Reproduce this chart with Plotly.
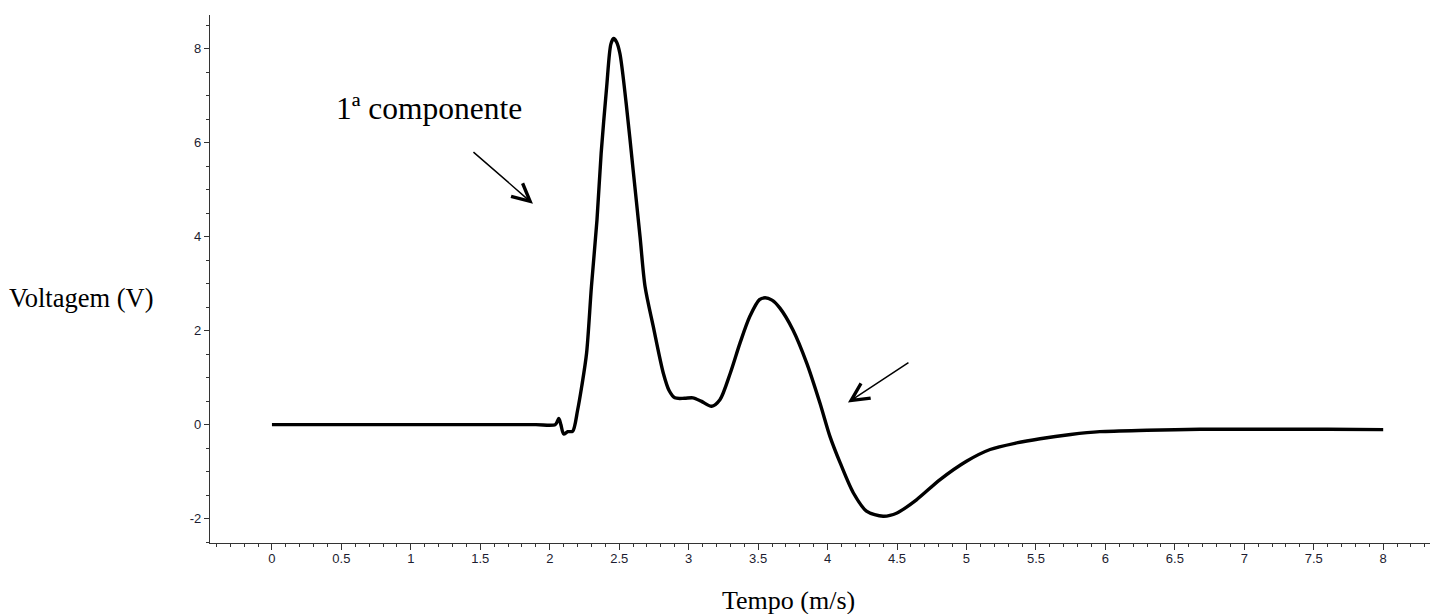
import plotly.graph_objects as go

# Time (ms) and voltage (V)
tempo = [0, 0.5, 1.0, 1.5, 1.9, 2.04, 2.065, 2.08, 2.10, 2.13, 2.165, 2.20, 2.23, 2.265,
         2.30, 2.34, 2.37, 2.41, 2.44, 2.46, 2.48, 2.505, 2.55, 2.60, 2.65, 2.686,
         2.745, 2.817, 2.86, 2.90, 2.97, 3.03, 3.09, 3.165, 3.225, 3.30, 3.37, 3.44,
         3.51, 3.55, 3.60, 3.657, 3.75, 3.85, 3.945, 4.017, 4.09, 4.185, 4.28, 4.40,
         4.50, 4.64, 4.81, 5.0, 5.17, 5.36, 5.53, 5.75, 5.96, 6.3, 6.68, 7.2, 7.6, 8.0]
voltagem = [0, 0, 0, 0, 0, 0, 0.13, 0.0, -0.2, -0.15, -0.14, 0.3, 0.81, 1.52,
            2.94, 4.36, 5.78, 7.2, 8.1, 8.22, 8.15, 7.9, 6.84, 5.43, 4.0, 2.94,
            2.09, 1.1, 0.72, 0.57, 0.56, 0.57, 0.5, 0.39, 0.53, 1.1, 1.74, 2.3,
            2.66, 2.70, 2.65, 2.48, 2.02, 1.31, 0.46, -0.25, -0.81, -1.45, -1.84, -1.95,
            -1.88, -1.6, -1.17, -0.78, -0.53, -0.39, -0.3, -0.21, -0.15, -0.12, -0.1, -0.1, -0.1, -0.106]

x_ticks = [0, 0.5, 1, 1.5, 2, 2.5, 3, 3.5, 4, 4.5, 5, 5.5, 6, 6.5, 7, 7.5, 8]
x_ticklabels = ["0", "0.5", "1", "1.5", "2", "2.5", "3", "3.5", "4", "4.5", "5",
                "5.5", "6", "6.5", "7", "7.5", "8"]
y_ticks = [-2, 0, 2, 4, 6, 8]
y_ticklabels = ["-2", "0", "2", "4", "6", "8"]

# annotation arrows: (tail t, tail v, head t, head v)
arrow1 = (1.44, 5.83, 1.879, 4.70)
arrow2 = (4.593, 1.34, 4.147, 0.47)

fig = go.Figure()
fig.add_trace(go.Scatter(
    x=tempo, y=voltagem, mode="lines",
    line=dict(color="black", width=3.4, shape="spline", smoothing=0.8),
    showlegend=False, hoverinfo="x+y"))

tickfont = dict(family="Liberation Sans Narrow, Arial Narrow, Liberation Sans, Arial",
                size=13, color="#1c1c30")

fig.update_xaxes(
    range=[-0.446, 8.337], showgrid=False, zeroline=False,
    showline=True, linecolor="#333", linewidth=1.2,
    tickmode="array", tickvals=x_ticks, ticktext=x_ticklabels,
    ticks="outside", ticklen=6, tickwidth=1, tickcolor="#333",
    ticklabelstandoff=-3,
    minor=dict(dtick=0.1, tick0=0, ticks="outside", ticklen=3, tickwidth=1, tickcolor="#333"),
    tickfont=tickfont)
fig.update_yaxes(
    range=[-2.52, 8.72], showgrid=False, zeroline=False,
    showline=True, linecolor="#333", linewidth=1.2,
    tickmode="array", tickvals=y_ticks, ticktext=y_ticklabels,
    ticks="outside", ticklen=5, tickwidth=1, tickcolor="#333",
    minor=dict(dtick=0.5, tick0=0, ticks="outside", ticklen=3, tickwidth=1, tickcolor="#333"),
    tickfont=tickfont)

serif = "Liberation Serif, Times New Roman, serif"
annotations = [
    dict(text="Voltagem (V)", xref="paper", yref="paper", x=-0.105, y=0.464,
         showarrow=False, font=dict(family=serif, size=26.5, color="black"),
         xanchor="center", yanchor="middle"),
    dict(text="Tempo (m/s)", xref="paper", yref="paper", x=0.474, y=-0.108,
         showarrow=False, font=dict(family=serif, size=26, color="black"),
         xanchor="center", yanchor="middle"),
    dict(text="1ª componente", xref="x", yref="y", x=0.45, y=6.74,
         showarrow=False, font=dict(family=serif, size=31.5, color="black"),
         xanchor="left", yanchor="middle"),
]
for (tx, ty, hx, hy) in (arrow1, arrow2):
    annotations.append(dict(
        x=hx, y=hy, ax=tx, ay=ty, xref="x", yref="y", axref="x", ayref="y",
        text="", showarrow=True, arrowhead=5, arrowsize=2.3, arrowwidth=1.5,
        arrowcolor="black"))

fig.update_layout(
    width=1432, height=614,
    margin=dict(l=210, r=2, t=15, b=71),
    plot_bgcolor="white", paper_bgcolor="white",
    hovermode=False,
    annotations=annotations)

fig.write_html("out.html", config={"displayModeBar": False},
               post_script="document.body.style.margin='0';document.body.style.overflow='hidden';")
